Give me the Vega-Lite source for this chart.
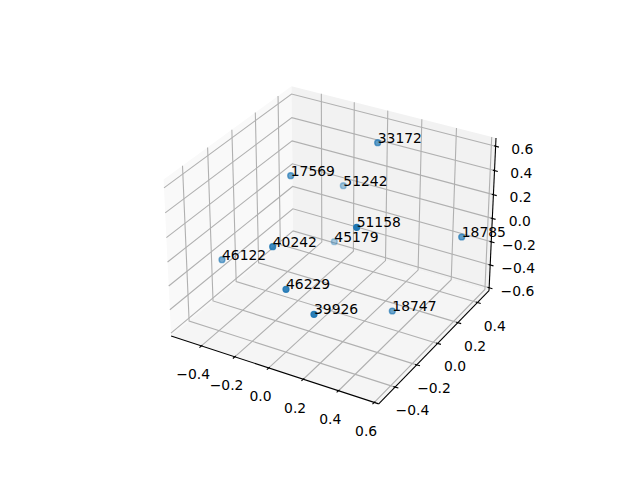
{
  "$schema": "https://vega.github.io/schema/vega-lite/v6.json",
  "width": 640,
  "height": 480,
  "autosize": {"type": "fit", "contains": "padding"},
  "padding": 0,
  "background": "white",
  "config": {"view": {"stroke": null}},
  "datasets": {
    "panes": [
      {"pane": "left", "i": 0, "x": -0.081031, "y": -0.049385},
      {"pane": "left", "i": 1, "x": -0.019938, "y": 0.001825},
      {"pane": "left", "i": 2, "x": -0.020787, "y": 0.075677},
      {"pane": "left", "i": 3, "x": -0.084804, "y": 0.028961},
      {"pane": "back", "i": 0, "x": -0.019938, "y": 0.001825},
      {"pane": "back", "i": 1, "x": 0.078094, "y": -0.026670},
      {"pane": "back", "i": 2, "x": 0.081593, "y": 0.049727},
      {"pane": "back", "i": 3, "x": -0.020787, "y": 0.075677},
      {"pane": "floor", "i": 0, "x": -0.081031, "y": -0.049385},
      {"pane": "floor", "i": 1, "x": 0.022888, "y": -0.083326},
      {"pane": "floor", "i": 2, "x": 0.078094, "y": -0.026670},
      {"pane": "floor", "i": 3, "x": -0.019938, "y": 0.001825}
    ],
    "grid": [
      {"g": "x-0.4", "i": 0, "x": -0.065888, "y": -0.054331},
      {"g": "x-0.4", "i": 1, "x": -0.005599, "y": -0.002344},
      {"g": "x-0.4", "i": 2, "x": -0.005839, "y": 0.071888},
      {"g": "x-0.2", "i": 0, "x": -0.049169, "y": -0.059791},
      {"g": "x-0.2", "i": 1, "x": 0.010211, "y": -0.006939},
      {"g": "x-0.2", "i": 2, "x": 0.010653, "y": 0.067707},
      {"g": "x0", "i": 0, "x": -0.032159, "y": -0.065347},
      {"g": "x0", "i": 1, "x": 0.026274, "y": -0.011608},
      {"g": "x0", "i": 2, "x": 0.027420, "y": 0.063458},
      {"g": "x0.2", "i": 0, "x": -0.014849, "y": -0.071000},
      {"g": "x0.2", "i": 1, "x": 0.042595, "y": -0.016352},
      {"g": "x0.2", "i": 2, "x": 0.044468, "y": 0.059137},
      {"g": "x0.4", "i": 0, "x": 0.002767, "y": -0.076754},
      {"g": "x0.4", "i": 1, "x": 0.059181, "y": -0.021172},
      {"g": "x0.4", "i": 2, "x": 0.061807, "y": 0.054742},
      {"g": "x0.6", "i": 0, "x": 0.020699, "y": -0.082610},
      {"g": "x0.6", "i": 1, "x": 0.076039, "y": -0.026072},
      {"g": "x0.6", "i": 2, "x": 0.079441, "y": 0.050272},
      {"g": "y-0.4", "i": 0, "x": 0.031060, "y": -0.074938},
      {"g": "y-0.4", "i": 1, "x": -0.072022, "y": -0.041834},
      {"g": "y-0.4", "i": 2, "x": -0.075333, "y": 0.035873},
      {"g": "y-0.2", "i": 0, "x": 0.041898, "y": -0.063817},
      {"g": "y-0.2", "i": 1, "x": -0.060055, "y": -0.031803},
      {"g": "y-0.2", "i": 2, "x": -0.062770, "y": 0.045041},
      {"g": "y0", "i": 0, "x": 0.052372, "y": -0.053067},
      {"g": "y0", "i": 1, "x": -0.048470, "y": -0.022092},
      {"g": "y0", "i": 2, "x": -0.050625, "y": 0.053904},
      {"g": "y0.2", "i": 0, "x": 0.062501, "y": -0.042672},
      {"g": "y0.2", "i": 1, "x": -0.037249, "y": -0.012686},
      {"g": "y0.2", "i": 2, "x": -0.038877, "y": 0.062477},
      {"g": "y0.4", "i": 0, "x": 0.072301, "y": -0.032615},
      {"g": "y0.4", "i": 1, "x": -0.026374, "y": -0.003570},
      {"g": "y0.4", "i": 2, "x": -0.027508, "y": 0.070774},
      {"g": "z-0.6", "i": 0, "x": -0.081103, "y": -0.047886},
      {"g": "z-0.6", "i": 1, "x": -0.019954, "y": 0.003242},
      {"g": "z-0.6", "i": 2, "x": 0.078162, "y": -0.025206},
      {"g": "z-0.4", "i": 0, "x": -0.081666, "y": -0.036194},
      {"g": "z-0.4", "i": 1, "x": -0.020082, "y": 0.014299},
      {"g": "z-0.4", "i": 2, "x": 0.078685, "y": -0.013789},
      {"g": "z-0.2", "i": 0, "x": -0.082238, "y": -0.024338},
      {"g": "z-0.2", "i": 1, "x": -0.020211, "y": 0.025496},
      {"g": "z-0.2", "i": 2, "x": 0.079214, "y": -0.002218},
      {"g": "z0", "i": 0, "x": -0.082817, "y": -0.012315},
      {"g": "z0", "i": 1, "x": -0.020341, "y": 0.036839},
      {"g": "z0", "i": 2, "x": 0.079751, "y": 0.009510},
      {"g": "z0.2", "i": 0, "x": -0.083404, "y": -0.000121},
      {"g": "z0.2", "i": 1, "x": -0.020473, "y": 0.048329},
      {"g": "z0.2", "i": 2, "x": 0.080296, "y": 0.021398},
      {"g": "z0.4", "i": 0, "x": -0.083999, "y": 0.012246},
      {"g": "z0.4", "i": 1, "x": -0.020607, "y": 0.059968},
      {"g": "z0.4", "i": 2, "x": 0.080847, "y": 0.033450},
      {"g": "z0.6", "i": 0, "x": -0.084604, "y": 0.024792},
      {"g": "z0.6", "i": 1, "x": -0.020742, "y": 0.071762},
      {"g": "z0.6", "i": 2, "x": 0.081406, "y": 0.045668}
    ],
    "axes": [
      {"a": "x", "i": 0, "x": -0.081031, "y": -0.049385},
      {"a": "x", "i": 1, "x": 0.022888, "y": -0.083326},
      {"a": "y", "i": 0, "x": 0.022888, "y": -0.083326},
      {"a": "y", "i": 1, "x": 0.078094, "y": -0.026670},
      {"a": "z", "i": 0, "x": 0.078094, "y": -0.026670},
      {"a": "z", "i": 1, "x": 0.081593, "y": 0.049727}
    ],
    "ticks": [
      {"x": -0.066840, "y": -0.055156, "x2": -0.065412, "y2": -0.053919},
      {"x": -0.050121, "y": -0.060616, "x2": -0.048693, "y2": -0.059379},
      {"x": -0.033111, "y": -0.066172, "x2": -0.031683, "y2": -0.064935},
      {"x": -0.015801, "y": -0.071825, "x2": -0.014373, "y2": -0.070588},
      {"x": 0.001815, "y": -0.077579, "x2": 0.003243, "y2": -0.076342},
      {"x": 0.019747, "y": -0.083435, "x2": 0.021175, "y2": -0.082198},
      {"x": 0.032710, "y": -0.075414, "x2": 0.030235, "y2": -0.074700},
      {"x": 0.043548, "y": -0.064293, "x2": 0.041073, "y2": -0.063579},
      {"x": 0.054022, "y": -0.053543, "x2": 0.051547, "y2": -0.052829},
      {"x": 0.064151, "y": -0.043148, "x2": 0.061676, "y2": -0.042434},
      {"x": 0.073951, "y": -0.033091, "x2": 0.071476, "y2": -0.032377},
      {"x": 0.079812, "y": -0.025682, "x2": 0.077337, "y2": -0.024968},
      {"x": 0.080335, "y": -0.014265, "x2": 0.077860, "y2": -0.013551},
      {"x": 0.080864, "y": -0.002694, "x2": 0.078389, "y2": -0.001980},
      {"x": 0.081401, "y": 0.009034, "x2": 0.078926, "y2": 0.009748},
      {"x": 0.081946, "y": 0.020922, "x2": 0.079471, "y2": 0.021636},
      {"x": 0.082497, "y": 0.032974, "x2": 0.080022, "y2": 0.033688},
      {"x": 0.083056, "y": 0.045192, "x2": 0.080581, "y2": 0.045906}
    ],
    "ticklabels": [
      {"t": "−0.4", "x": -0.069993, "y": -0.069097},
      {"t": "−0.2", "x": -0.053274, "y": -0.074557},
      {"t": "0.0", "x": -0.036264, "y": -0.080113},
      {"t": "0.2", "x": -0.018954, "y": -0.085766},
      {"t": "0.4", "x": -0.001338, "y": -0.091520},
      {"t": "0.6", "x": 0.016594, "y": -0.097376},
      {"t": "−0.4", "x": 0.039720, "y": -0.086951},
      {"t": "−0.2", "x": 0.050558, "y": -0.075830},
      {"t": "0.0", "x": 0.061032, "y": -0.065080},
      {"t": "0.2", "x": 0.071161, "y": -0.054685},
      {"t": "0.4", "x": 0.080961, "y": -0.044628},
      {"t": "−0.6", "x": 0.092328, "y": -0.027108},
      {"t": "−0.4", "x": 0.092700, "y": -0.015691},
      {"t": "−0.2", "x": 0.093079, "y": -0.004120},
      {"t": "0.0", "x": 0.093516, "y": 0.007608},
      {"t": "0.2", "x": 0.093911, "y": 0.019496},
      {"t": "0.4", "x": 0.094312, "y": 0.031548},
      {"t": "0.6", "x": 0.094721, "y": 0.043766}
    ],
    "points": [
      {"label": "33172", "x": 0.022375, "y": 0.047402, "depth": 0.571},
      {"label": "17569", "x": -0.021173, "y": 0.030884, "depth": 0.5},
      {"label": "51242", "x": 0.005156, "y": 0.025878, "depth": 0.143},
      {"label": "51158", "x": 0.011863, "y": 0.005056, "depth": 1.0},
      {"label": "45179", "x": 0.000651, "y": -0.002152, "depth": 0.071},
      {"label": "40242", "x": -0.030183, "y": -0.004655, "depth": 0.786},
      {"label": "46122", "x": -0.055561, "y": -0.011162, "depth": 0.429},
      {"label": "46229", "x": -0.023526, "y": -0.025979, "depth": 0.857},
      {"label": "39926", "x": -0.009510, "y": -0.038492, "depth": 0.929},
      {"label": "18747", "x": 0.029683, "y": -0.036841, "depth": 0.5},
      {"label": "18785", "x": 0.064421, "y": 0.000200, "depth": 0.571}
    ]
  },
  "encoding": {
    "x": {"field": "x", "type": "quantitative", "scale": {"domain": [-0.166683, 0.153669], "nice": false, "zero": false}, "axis": null},
    "y": {"field": "y", "type": "quantitative", "scale": {"domain": [-0.121434, 0.118831], "nice": false, "zero": false}, "axis": null}
  },
  "layer": [
    {
      "data": {"name": "panes"},
      "mark": {"type": "line", "filled": true, "strokeWidth": 0, "interpolate": "linear-closed"},
      "encoding": {
        "detail": {"field": "pane", "type": "nominal"},
        "order": {"field": "i", "type": "quantitative"},
        "color": {"field": "pane", "type": "nominal", "scale": {"domain": ["left", "back", "floor"], "range": ["#f9f9f9", "#f2f2f2", "#f5f5f5"]}, "legend": null}
      }
    },
    {
      "data": {"name": "grid"},
      "mark": {"type": "line", "color": "#b0b0b0", "strokeWidth": 1.1},
      "encoding": {
        "detail": {"field": "g", "type": "nominal"},
        "order": {"field": "i", "type": "quantitative"}
      }
    },
    {
      "data": {"name": "axes"},
      "mark": {"type": "line", "color": "black", "strokeWidth": 1.1},
      "encoding": {
        "detail": {"field": "a", "type": "nominal"},
        "order": {"field": "i", "type": "quantitative"}
      }
    },
    {
      "data": {"name": "ticks"},
      "mark": {"type": "rule", "color": "black", "strokeWidth": 1.1},
      "encoding": {
        "x2": {"field": "x2"},
        "y2": {"field": "y2"}
      }
    },
    {
      "data": {"name": "ticklabels"},
      "mark": {"type": "text", "font": "DejaVu Sans", "fontSize": 13.9, "align": "center", "baseline": "middle", "color": "black"},
      "encoding": {"text": {"field": "t", "type": "nominal"}}
    },
    {
      "data": {"name": "points"},
      "mark": {"type": "circle", "size": 34, "color": "#1f77b4", "filled": true, "opacity": 1, "stroke": "#1f77b4", "strokeWidth": 1.4},
      "encoding": {
        "fillOpacity": {"field": "depth", "type": "quantitative", "scale": {"domain": [0, 1], "range": [0.3, 1]}, "legend": null},
        "strokeOpacity": {"field": "depth", "type": "quantitative", "scale": {"domain": [0, 1], "range": [0.3, 1]}, "legend": null}
      }
    },
    {
      "data": {"name": "points"},
      "mark": {"type": "text", "font": "DejaVu Sans", "fontSize": 13.9, "align": "left", "baseline": "alphabetic", "color": "black"},
      "encoding": {"text": {"field": "label", "type": "nominal"}}
    }
  ]
}
